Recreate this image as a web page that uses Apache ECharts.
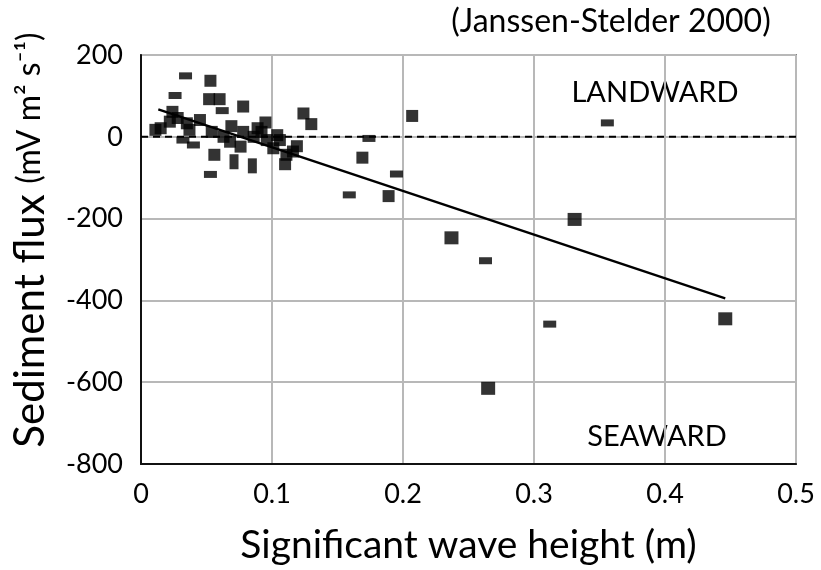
<!DOCTYPE html>
<html>
<head>
<meta charset="utf-8">
<script src="https://cdn.jsdelivr.net/npm/echarts@6/dist/echarts.min.js"></script>
<style>html,body{margin:0;padding:0;background:#fff}#c{width:821px;height:570px}</style>
</head>
<body>
<div id="c"></div>
<script>
// Data
var squarePts = [
  [0.053,137],[0.052,92],[0.060,92],[0.078,74],[0.024,61],[0.095,35],
  [0.011,17],[0.015,21],[0.022,37],[0.028,46],[0.035,33],[0.037,17],[0.045,41],
  [0.054,12],[0.063,0],[0.069,26],[0.078,12],[0.086,0],[0.089,21],[0.092,12],
  [0.096,-8],[0.104,4],[0.101,-28],[0.106,-8],[0.111,-44],[0.116,-36],[0.119,-23],
  [0.056,-44],[0.068,-12],[0.076,-24],[0.110,-67],
  [0.207,51],[0.124,57],[0.130,31],[0.169,-51],[0.189,-145]
];
var dashPts = [
  [0.034,149],[0.026,101],[0.062,64],[0.032,-8],[0.040,-20],[0.053,-92],
  [0.159,-142],[0.195,-91],[0.263,-303],[0.312,-458],[0.356,34],[0.174,-4]
];
var tallPts = [[0.071,-61],[0.085,-71]];
var bigPts = [[0.237,-247],[0.446,-445],[0.265,-615],[0.331,-202]];
var trendLine = [[0.0132,67],[0.446,-395]];
var zeroLine = [[0,0],[0.5,0]];
var xTicks = [0,0.1,0.2,0.3,0.4,0.5];
var yTicks = [200,0,-200,-400,-600,-800];

var FONT = 'Lato';
var chart = echarts.init(document.getElementById('c'), null, {renderer:'canvas'});
function scat(data, size){
  return {type:'scatter', data:data, symbol:'rect', symbolSize:size,
    itemStyle:{color:'#000'}, z:3, silent:true, animation:false};
}
chart.setOption({
  animation:false,
  backgroundColor:'#fff',
  grid:{left:141, right:25, top:55, bottom:106, show:true, borderColor:'#222', borderWidth:1.5},
  xAxis:{
    type:'value', min:xTicks[0], max:xTicks[xTicks.length-1], interval:0.1,
    axisLine:{show:true, onZero:false, lineStyle:{color:'#111', width:2}},
    axisTick:{show:false},
    splitLine:{show:true, lineStyle:{color:'#b8b8b8', width:2}},
    axisLabel:{fontFamily:FONT, fontSize:27, color:'#000', margin:17,
      formatter:function(v){return v===0?'0':String(+v.toFixed(1));}},
    name:'Significant wave height (m)', nameLocation:'middle', nameGap:62,
    nameTextStyle:{fontFamily:FONT, fontSize:39, color:'#000'}
  },
  yAxis:{
    type:'value', min:yTicks[yTicks.length-1], max:yTicks[0], interval:200,
    axisLine:{show:true, onZero:false, lineStyle:{color:'#111', width:2}},
    axisTick:{show:false},
    splitLine:{show:true, lineStyle:{color:'#b8b8b8', width:2}},
    axisLabel:{fontFamily:FONT, fontSize:27, color:'#000', margin:18}
  },
  series:[
    {type:'line', data:zeroLine, showSymbol:false, symbol:'none', silent:true,
      lineStyle:{color:'#000', width:2, type:[7,5]}, z:2},
    {type:'line', data:trendLine, showSymbol:false, symbol:'none', silent:true,
      lineStyle:{color:'#000', width:2.5}, z:2},
    scat(squarePts, [12,12]),
    scat(dashPts, [13,7]),
    scat(tallPts, [9,15]),
    scat(bigPts, [14,13])
  ],
  graphic:[
    {type:'text', x:611, y:22, style:{text:'(Janssen-Stelder 2000)', font:'32px '+FONT, fill:'#000', align:'center', verticalAlign:'middle'}},
    {type:'text', x:655, y:93, style:{text:'LANDWARD', font:'29px '+FONT, fill:'#000', align:'center', verticalAlign:'middle'}},
    {type:'text', x:657, y:437, style:{text:'SEAWARD', font:'29px '+FONT, fill:'#000', align:'center', verticalAlign:'middle'}},
    {type:'text', x:30, y:240, rotation:Math.PI/2,
      style:{text:'{a|Sediment flux }{b|(mV m² s⁻¹)}', align:'center', verticalAlign:'middle', fill:'#000',
        rich:{a:{font:'42px '+FONT, fill:'#000', verticalAlign:'middle'}, b:{font:'32px '+FONT, fill:'#000', verticalAlign:'middle'}}}}
  ]
});
</script>
</body>
</html>
